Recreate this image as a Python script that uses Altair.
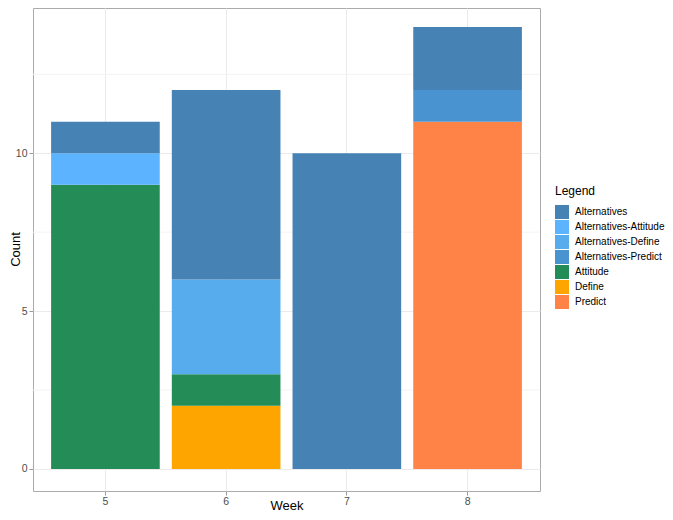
import altair as alt
import pandas as pd

weeks = ["5", "5", "5", "6", "6", "6", "6", "7", "8", "8", "8"]
categories = ["Attitude", "Alternatives-Attitude", "Alternatives",
              "Define", "Attitude", "Alternatives-Define", "Alternatives",
              "Alternatives",
              "Predict", "Alternatives-Predict", "Alternatives"]
counts = [9, 1, 1, 2, 1, 3, 6, 10, 11, 1, 2]

legend_order = ["Alternatives", "Alternatives-Attitude", "Alternatives-Define",
                "Alternatives-Predict", "Attitude", "Define", "Predict"]
legend_colors = ["#4682B4", "#5CB3FF", "#56ACEC", "#4A93D1",
                 "#248C56", "#FFA500", "#FF8247"]

minor_grid = [2.5, 7.5, 12.5]
week_domain = ["5", "6", "7", "8"]

df = pd.DataFrame({
    "Week": weeks,
    "Legend": categories,
    "Count": counts,
    "ord": [legend_order.index(c) for c in categories],
})
minor_df = pd.DataFrame({"y": minor_grid})

FONT = "Liberation Sans"

yscale = alt.Scale(domain=[-0.7, 14.6], nice=False, zero=False)

minor = alt.Chart(minor_df).mark_rule(color="#F3F3F3", strokeWidth=1).encode(
    y=alt.Y("y:Q", scale=yscale)
)

bars = alt.Chart(df).mark_bar().encode(
    x=alt.X("Week:O",
            scale=alt.Scale(domain=week_domain, paddingInner=0.1, paddingOuter=0.15),
            axis=alt.Axis(title="Week", labelAngle=0, bandPosition=0.5, grid=True,
                          labelPadding=1, titleY=18, titleBaseline="alphabetic")),
    y=alt.Y("sum(Count):Q", scale=yscale, stack="zero",
            axis=alt.Axis(title="Count", values=[0, 5, 10], grid=True,
                          labelPadding=2, titleX=-24, titleY=241,
                          titleBaseline="top")),
    color=alt.Color("Legend:N",
                    scale=alt.Scale(domain=legend_order, range=legend_colors),
                    legend=alt.Legend(title="Legend", orient="none",
                                      legendX=522, legendY=178,
                                      symbolType="square", symbolSize=196,
                                      symbolStrokeWidth=0, rowPadding=1,
                                      titlePadding=7, labelOffset=6,
                                      labelLimit=300, padding=0)),
    order=alt.Order("ord:Q", sort="descending"),
)

chart = alt.layer(minor, bars).properties(
    width=507,
    height=483,
    autosize=alt.AutoSizeParams(type="none"),
    padding={"left": 25, "top": 0, "right": 125, "bottom": 21},
).configure_view(
    stroke="#ABABAB", strokeWidth=1
).configure_axis(
    labelFont=FONT, labelFontSize=10.5, labelColor="#4D4D4D",
    titleFont=FONT, titleFontSize=13, titleFontWeight="normal", titleColor="#000000",
    tickColor="#999999", tickSize=4, domain=False,
    gridColor="#EBEBEB", gridWidth=1,
).configure_legend(
    titleFont=FONT, titleFontSize=12, titleFontWeight="normal", titleColor="#000000",
    labelFont=FONT, labelFontSize=10, labelColor="#000000",
)

chart.save("out.html", embed_options={"renderer": "svg", "actions": False})
